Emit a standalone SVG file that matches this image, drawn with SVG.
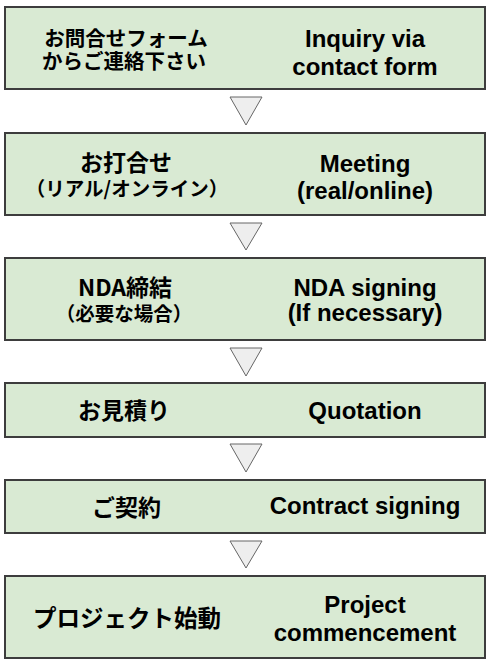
<svg xmlns="http://www.w3.org/2000/svg" width="490" height="666" viewBox="0 0 490 666">
<style>
.box{fill:#d9ead3;stroke:#3d3d3d;stroke-width:2}
.jp{font-family:"Noto Sans CJK JP","Noto Sans",sans-serif;font-weight:bold;fill:#000;text-anchor:middle}
.en{font-family:"Liberation Sans",Arial,sans-serif;font-weight:bold;font-size:24px;fill:#000;text-anchor:middle}
.tri{fill:#eeeeee;stroke:#666666;stroke-width:1}
</style>
<rect width="490" height="666" fill="#ffffff"/>
<g id="connectors">
<polygon class="tri" points="230,97 262,97 246,125"/>
<polygon class="tri" points="230,223 262,223 246,250"/>
<polygon class="tri" points="230,348 262,348 246,376"/>
<polygon class="tri" points="230,444 262,444 246,472"/>
<polygon class="tri" points="230,541 262,541 246,568"/>
</g>
<g id="step1">
<rect class="box" x="5" y="7" width="480" height="82"/>
<text class="jp" x="126" y="45.5" font-size="20.5">お問合せフォーム</text>
<text class="jp" x="124" y="69" font-size="20.5">からご連絡下さい</text>
<text class="en" x="365" y="46.5">Inquiry via</text>
<text class="en" x="365" y="74.5">contact form</text>
</g>
<g id="step2">
<rect class="box" x="5" y="133" width="480" height="82"/>
<text class="jp" x="126" y="171" font-size="23">お打合せ</text>
<text class="jp" x="127" y="195.5" font-size="19.5">（リアル/オンライン）</text>
<text class="en" x="365" y="172">Meeting</text>
<text class="en" x="365" y="199">(real/online)</text>
</g>
<g id="step3">
<rect class="box" x="5" y="258" width="480" height="82"/>
<text class="jp" x="125" y="295.5" font-size="23">NDA締結</text>
<text class="jp" x="124" y="320.5" font-size="19.5">（必要な場合）</text>
<text class="en" x="365" y="296">NDA signing</text>
<text class="en" x="365" y="321">(If necessary)</text>
</g>
<g id="step4">
<rect class="box" x="5" y="383" width="480" height="54"/>
<text class="jp" x="124" y="418.5" font-size="23">お見積り</text>
<text class="en" x="365" y="419">Quotation</text>
</g>
<g id="step5">
<rect class="box" x="5" y="480" width="480" height="53"/>
<text class="jp" x="126.5" y="515.5" font-size="23">ご契約</text>
<text class="en" x="365" y="514">Contract signing</text>
</g>
<g id="step6">
<rect class="box" x="5" y="576" width="480" height="82"/>
<text class="jp" x="127" y="626.5" font-size="23.5">プロジェクト始動</text>
<text class="en" x="365" y="613">Project</text>
<text class="en" x="365" y="641">commencement</text>
</g>
</svg>
